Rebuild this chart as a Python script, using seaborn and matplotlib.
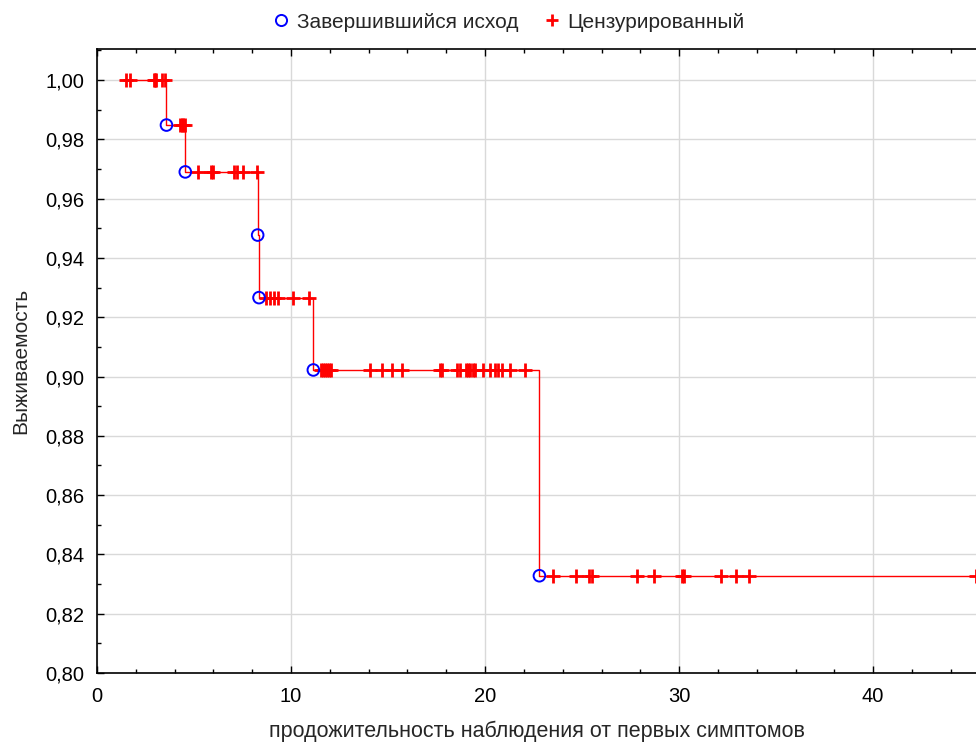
import numpy as np
import pandas as pd
import matplotlib
matplotlib.use("Agg")
import matplotlib.pyplot as plt
from matplotlib.lines import Line2D
from matplotlib.ticker import MultipleLocator, FuncFormatter
import seaborn as sns

# --- data ---
step_times = [1.2, 3.58, 4.55, 8.28, 8.35, 11.15, 22.8, 45.3]
step_surv = [1.0, 0.9848, 0.9690, 0.9477, 0.9266, 0.9022, 0.8328, 0.8328]

event_times = [3.58, 4.55, 8.28, 8.35, 11.15, 22.8]
event_surv = [0.9848, 0.9690, 0.9477, 0.9266, 0.9022, 0.8328]

censored_times = [
    1.48, 1.68, 2.92, 2.98, 3.04, 3.35, 3.52,
    4.30, 4.38, 4.45, 4.52,
    5.20, 5.86, 6.00, 7.08, 7.20, 7.54, 8.23,
    8.72, 8.92, 9.12, 9.33, 10.12, 10.90,
    11.55, 11.65, 11.75, 11.85, 11.95, 12.05, 14.07, 14.67, 15.19, 15.70,
    17.68, 17.77, 18.54, 18.71, 19.00, 19.10, 19.23, 19.37, 19.48, 19.91,
    20.26, 20.52, 20.69, 20.86, 21.29, 22.06,
    23.52, 24.69, 25.33, 25.50, 27.82, 28.73, 30.14, 30.27, 32.16, 32.94,
    33.62, 45.3,
]

legend_labels = ["Завершившийся исход", "Цензурированный"]
x_label = "продожительность наблюдения от первых симптомов"
y_label = "Выживаемость"

# survival level at each censoring time from the step function
idx = np.searchsorted(np.array(step_times), np.array(censored_times), side="right") - 1
censored_surv = [step_surv[i] for i in idx]

sns.set_style("white")
plt.rcParams["font.family"] = ["Liberation Sans", "DejaVu Sans"]

fig = plt.figure(figsize=(9.76, 7.43), dpi=100)
ax = fig.add_axes([97 / 976, 70 / 743, 1 - 97 / 976, (673 - 49) / 743])

steps_df = pd.DataFrame({"t": step_times, "s": step_surv})
sns.lineplot(data=steps_df, x="t", y="s", drawstyle="steps-post", color="red",
             linewidth=1.0, ax=ax, zorder=3, estimator=None, sort=False)

cens_df = pd.DataFrame({"t": censored_times, "s": censored_surv})
sns.scatterplot(data=cens_df, x="t", y="s", marker="+", color="red", s=100,
                linewidth=2.0, ax=ax, zorder=4)

ev_df = pd.DataFrame({"t": event_times, "s": event_surv})
sns.scatterplot(data=ev_df, x="t", y="s", marker="o", facecolor="none",
                edgecolor="blue", s=70, linewidth=1.4, ax=ax, zorder=5)

ax.set_xlim(0, 45.3)
ax.set_ylim(0.80, 0.80 + (673 - 49) / 2965)
ax.xaxis.set_major_locator(MultipleLocator(10))
ax.xaxis.set_minor_locator(MultipleLocator(2))
ax.yaxis.set_major_locator(MultipleLocator(0.02))
ax.yaxis.set_minor_locator(MultipleLocator(0.01))
ax.yaxis.set_major_formatter(FuncFormatter(lambda v, p: f"{v:.2f}".replace(".", ",")))
ax.xaxis.set_major_formatter(FuncFormatter(lambda v, p: f"{v:.0f}"))

ax.grid(True, which="major", color="#d9d9d9", linewidth=1.0)
ax.set_axisbelow(True)
for s in ["left", "bottom", "top"]:
    ax.spines[s].set_visible(True)
    ax.spines[s].set_color("black")
    ax.spines[s].set_linewidth(1.2)
ax.spines["right"].set_visible(False)

ax.tick_params(axis="both", which="both", direction="in", labelsize=14.5,
               colors="black")
ax.tick_params(axis="both", which="major", length=5, width=1)
ax.tick_params(axis="both", which="minor", length=3, width=1)
ax.tick_params(axis="x", which="both", top=True, bottom=True, pad=10)
ax.tick_params(axis="y", which="both", left=True, pad=9)

ax.set_xlabel(x_label, fontsize=15.5, labelpad=11)
ax.set_ylabel(y_label, fontsize=15, labelpad=11)

handles = [
    Line2D([], [], marker="o", linestyle="none", markerfacecolor="none",
           markeredgecolor="blue", markersize=8, markeredgewidth=1.4),
    Line2D([], [], marker="+", linestyle="none", color="red",
           markersize=9, markeredgewidth=2.0),
]
fig.legend(handles, legend_labels, loc="center", ncol=2,
           bbox_to_anchor=(509 / 976, 1 - 22 / 743), frameon=False,
           fontsize=15, handlelength=0.8, handletextpad=0.35,
           columnspacing=1.2)

fig.savefig("out.png", dpi=100)
